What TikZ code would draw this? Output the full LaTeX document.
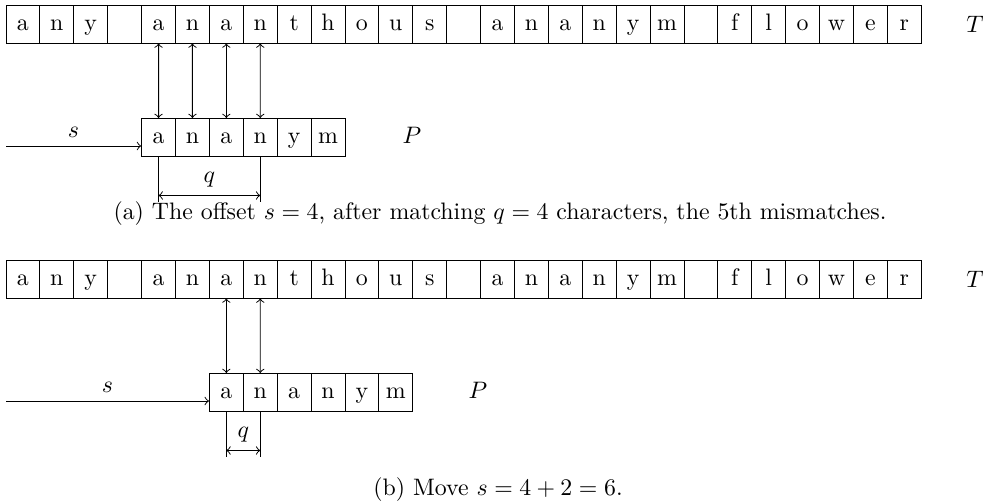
\documentclass[tikz,border=0pt]{standalone}
\begin{document}
\begin{tikzpicture}[x=0.4198pt,y=-0.4198pt,
  cell/.style={draw, minimum width=14.23pt, minimum height=15.95pt, inner sep=0pt, text height=1.5ex, text depth=0.25ex, anchor=center},
  lbl/.style={inner sep=0pt}]
\useasboundingbox (0,0) rectangle (1001,503);
% ---------- (a) ----------
\foreach \c [count=\i] in {a,n,y,{},a,n,a,n,t,h,o,u,s,{},a,n,a,n,y,m,{},f,l,o,w,e,r}
  \node[cell] (ta\i) at ({6+33.9*(\i-0.5)},24) {\c};
\foreach \c [count=\i] in {a,n,a,n,y,m}
  \node[cell] (pa\i) at ({141.6+33.9*(\i-0.5)},137.5) {\c};
\foreach \i/\j in {5/1,6/2,7/3,8/4}
  \draw[<->] (ta\i.south) -- (pa\j.north);
\node[lbl] (Ta) at (975,24) {$T$};
\node[lbl] (Pa) at (412,135) {$P$};
\coordinate (sa) at (6,146);
\draw[->] (sa) -- (sa -| pa1.west) node[midway, above] {$s$};
\path (pa1.south) ++(0,45) coordinate (ea1);
\path (pa4.south) ++(0,45) coordinate (ea2);
\draw (pa1.south) -- (ea1) (pa4.south) -- (ea2);
\path (pa1.south) ++(0,38.5) coordinate (qa1);
\path (pa4.south) ++(0,38.5) coordinate (qa2);
\draw[<->] (qa1) -- node[above] {$q$} (qa2);
\node (capa) at (500,214) {(a) The offset $s=4$, after matching $q=4$ characters, the 5th mismatches.};
% ---------- (b) ----------
\foreach \c [count=\i] in {a,n,y,{},a,n,a,n,t,h,o,u,s,{},a,n,a,n,y,m,{},f,l,o,w,e,r}
  \node[cell] (tb\i) at ({6+33.9*(\i-0.5)},279) {\c};
\foreach \c [count=\i] in {a,n,a,n,y,m}
  \node[cell] (pb\i) at ({209.4+33.9*(\i-0.5)},392.5) {\c};
\foreach \i/\j in {7/1,8/2}
  \draw[<->] (tb\i.south) -- (pb\j.north);
\node[lbl] (Tb) at (975,279) {$T$};
\node[lbl] (Pb) at (478,390) {$P$};
\coordinate (sb) at (6,401);
\draw[->] (sb) -- (sb -| pb1.west) node[midway, above] {$s$};
\path (pb1.south) ++(0,45) coordinate (eb1);
\path (pb2.south) ++(0,45) coordinate (eb2);
\draw (pb1.south) -- (eb1) (pb2.south) -- (eb2);
\path (pb1.south) ++(0,38.5) coordinate (qb1);
\path (pb2.south) ++(0,38.5) coordinate (qb2);
\draw[<->] (qb1) -- node[above] {$q$} (qb2);
\node (capb) at (498,490) {(b) Move $s=4+2=6$.};
\end{tikzpicture}
\end{document}
